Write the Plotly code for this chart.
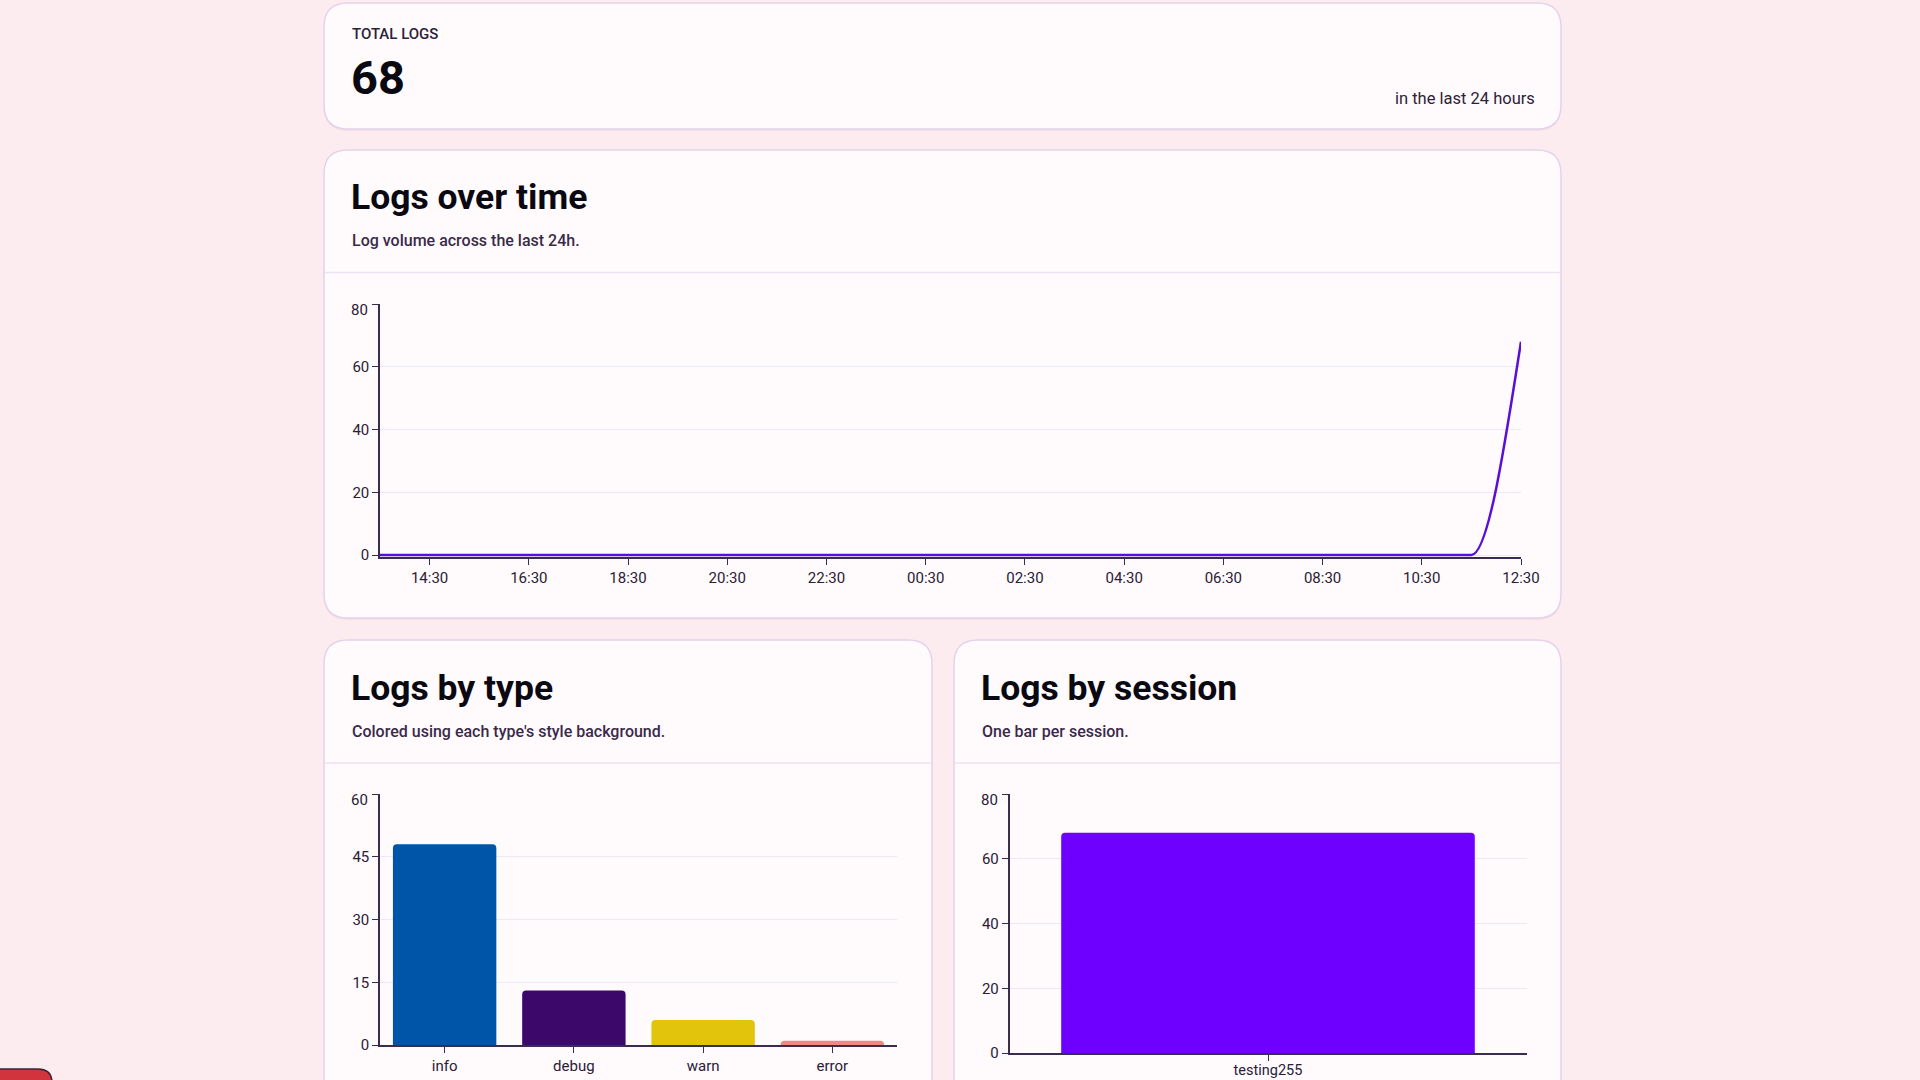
import plotly.graph_objects as go
from datetime import datetime, timedelta

W, H = 1920, 1080

# ---------------- data ----------------
total_logs = 68

bucket_times = [
    "2025-01-14 13:30", "2025-01-14 14:30", "2025-01-14 15:30", "2025-01-14 16:30",
    "2025-01-14 17:30", "2025-01-14 18:30", "2025-01-14 19:30", "2025-01-14 20:30",
    "2025-01-14 21:30", "2025-01-14 22:30", "2025-01-14 23:30", "2025-01-15 00:30",
    "2025-01-15 01:30", "2025-01-15 02:30", "2025-01-15 03:30", "2025-01-15 04:30",
    "2025-01-15 05:30", "2025-01-15 06:30", "2025-01-15 07:30", "2025-01-15 08:30",
    "2025-01-15 09:30", "2025-01-15 10:30", "2025-01-15 11:30", "2025-01-15 12:30",
]
bucket_counts = [0, 0, 0, 0, 0, 0, 0, 0, 0, 0, 0, 0,
                 0, 0, 0, 0, 0, 0, 0, 0, 0, 0, 0, 68]

type_names = ["info", "debug", "warn", "error"]
type_counts = [48, 13, 6, 1]

session_names = ["testing255"]
session_counts = [68]

line_yticks = [0, 20, 40, 60, 80]
type_yticks = [0, 15, 30, 45, 60]
session_yticks = [0, 20, 40, 60, 80]

# ---------------- styles ----------------
FONT = "Roboto, 'Noto Sans', sans-serif"
type_colors = ["#0055a8", "#3c086a", "#e2c40c", "#ec8a7c"]
session_color = "#6e00ff"
line_color = "#5a10d4"
axis_color = "#3a2c4c"
tick_color = "#2a2035"
grid_color = "#efe7f4"
bg_color = "#fcecf0"
card_fill = "#fffbfd"
card_border = "#e4d2ea"
divider_color = "#ece2f1"
TICK_SIZE = 15


def fx(x):
    return x / W


def fy(y):
    return 1 - y / H


def rrect(x0, y0, x1, y1, r):
    def P(x, y):
        return f"{fx(x):.6f},{fy(y):.6f}"
    return (f"M {P(x0 + r, y0)} L {P(x1 - r, y0)} Q {P(x1, y0)} {P(x1, y0 + r)} "
            f"L {P(x1, y1 - r)} Q {P(x1, y1)} {P(x1 - r, y1)} L {P(x0 + r, y1)} "
            f"Q {P(x0, y1)} {P(x0, y1 - r)} L {P(x0, y0 + r)} Q {P(x0, y0)} {P(x0 + r, y0)} Z")


def sign(v):
    return (v > 0) - (v < 0)


def monotone_path(times, values):
    """Monotone-X cubic curve (as d3.curveMonotoneX) expressed in data coordinates."""
    t0 = datetime.strptime(times[0], "%Y-%m-%d %H:%M")
    xs = [(datetime.strptime(t, "%Y-%m-%d %H:%M") - t0).total_seconds() / 3600 for t in times]
    ys = list(values)
    n = len(xs)
    tang = [0.0] * n
    for i in range(1, n - 1):
        h0 = xs[i] - xs[i - 1]
        h1 = xs[i + 1] - xs[i]
        s0 = (ys[i] - ys[i - 1]) / h0
        s1 = (ys[i + 1] - ys[i]) / h1
        p = (s0 * h1 + s1 * h0) / (h0 + h1)
        tang[i] = (sign(s0) + sign(s1)) * min(abs(s0), abs(s1), 0.5 * abs(p))
    tang[0] = (3 * (ys[1] - ys[0]) / (xs[1] - xs[0]) - tang[1]) / 2
    tang[-1] = (3 * (ys[-1] - ys[-2]) / (xs[-1] - xs[-2]) - tang[-2]) / 2

    def D(x):
        return (t0 + timedelta(hours=x)).strftime("%Y-%m-%d_%H:%M:%S")

    path = f"M {D(xs[0])},{ys[0]}"
    for i in range(n - 1):
        dx = (xs[i + 1] - xs[i]) / 3
        path += (f" C {D(xs[i] + dx)},{ys[i] + dx * tang[i]:.4f}"
                 f" {D(xs[i + 1] - dx)},{ys[i + 1] - dx * tang[i + 1]:.4f}"
                 f" {D(xs[i + 1])},{ys[i + 1]}")
    return path


fig = go.Figure()

# ---------- traces ----------
fig.add_trace(go.Scatter(
    x=bucket_times, y=bucket_counts, mode="lines",
    line=dict(color="rgba(0,0,0,0)", width=2.5),
    xaxis="x", yaxis="y", name="Logs", hovertemplate="%{x|%H:%M}: %{y}<extra></extra>",
))
fig.add_trace(go.Bar(
    x=type_names, y=type_counts, marker=dict(color=type_colors, cornerradius=4, line=dict(width=0)),
    xaxis="x2", yaxis="y2", name="Logs by type",
))
fig.add_trace(go.Bar(
    x=session_names, y=session_counts, marker=dict(color=session_color, cornerradius=4, line=dict(width=0)),
    xaxis="x3", yaxis="y3", name="Logs by session",
))

# ---------- cards ----------
cards = [
    (324, 3, 1561, 129),
    (324, 150, 1561, 618),
    (324, 640, 932, 1120),
    (954, 640, 1561, 1120),
]
shapes = []
for (x0, y0, x1, y1) in cards:
    shapes.append(dict(type="path", xref="paper", yref="paper", layer="below",
                       path=rrect(x0, y0 + 2, x1, y1 + 2, 24),
                       fillcolor="rgba(170,120,170,0.10)", line=dict(width=0)))
    shapes.append(dict(type="path", xref="paper", yref="paper", layer="below",
                       path=rrect(x0, y0, x1, y1, 24),
                       fillcolor=card_fill, line=dict(color=card_border, width=1.5)))

for (x0, x1, y) in [(324, 1561, 272.5), (324, 932, 763), (954, 1561, 763)]:
    shapes.append(dict(type="line", xref="paper", yref="paper", layer="below",
                       x0=fx(x0 + 1), x1=fx(x1 - 1), y0=fy(y), y1=fy(y),
                       line=dict(color=divider_color, width=1.5)))

# small red badge at bottom-left
shapes.append(dict(type="path", xref="paper", yref="paper", layer="above",
                   path=rrect(-30, 1069, 52, 1110, 14),
                   fillcolor="#d1343d", line=dict(color="#3b2338", width=1.5)))

# line curve (monotone) drawn in data coordinates of the first subplot
shapes.append(dict(type="path", xref="x", yref="y", layer="above",
                   path=monotone_path(bucket_times, bucket_counts),
                   fillcolor="rgba(0,0,0,0)", line=dict(color=line_color, width=2.5)))

# ---------- annotations ----------
ann = []


def text(x, y, s, size, color, weight=400, xanchor="left"):
    ann.append(dict(x=fx(x), y=fy(y), xref="paper", yref="paper", text=s, showarrow=False,
                    xanchor=xanchor, yanchor="middle",
                    font=dict(family=FONT, size=size, color=color, weight=weight)))


text(350, 34, "TOTAL LOGS", 15, "#2d2238", 500)
text(349, 78, str(total_logs), 47, "#0a0810", 700)
text(1537, 98, "in the last 24 hours", 16.5, "#2d2238", 400, "right")

text(349, 197, "Logs over time", 35.5, "#0a0810", 700)
text(350, 241, "Log volume across the last 24h.", 16, "#3a2a4a", 500)

text(349, 688, "Logs by type", 35.5, "#0a0810", 700)
text(350, 731, "Colored using each type's style background.", 16, "#3a2a4a", 500)

text(979, 688, "Logs by session", 35.5, "#0a0810", 700)
text(980, 731, "One bar per session.", 16, "#3a2a4a", 500)


def top_label(axis_x, yref, value):
    # the top tick label sits a little below its tick in the reference
    ann.append(dict(x=fx(axis_x - 10), y=value, xref="paper", yref=yref, text=str(value),
                    showarrow=False, xanchor="right", yanchor="middle", yshift=-6,
                    font=dict(family=FONT, size=TICK_SIZE, color=tick_color)))


# ---------- axes ----------
common = dict(showline=True, linecolor=axis_color, linewidth=1.5, ticks="outside", ticklen=6,
              tickwidth=1.2, tickcolor=axis_color, zeroline=False, fixedrange=True,
              automargin=False,
              tickfont=dict(family=FONT, size=TICK_SIZE, color=tick_color))


def ydom(top, bottom):
    return [fy(bottom), fy(top)]


def ticktexts(vals):
    return [str(v) for v in vals[:-1]] + [""]


# line chart: 80 at y=304, 0 at y=555
pxu = (555 - 304) / 80
y_low = -0.6
line_bottom = 555 + (-y_low) * pxu

top_label(380, "y", line_yticks[-1])
top_label(380, "y2", type_yticks[-1])
top_label(1009.5, "y3", session_yticks[-1])

fig.update_layout(
    xaxis=dict(common, domain=[fx(380), fx(1521)], anchor="y", type="date",
               range=[bucket_times[0], bucket_times[-1]], tick0="2025-01-14 14:30",
               dtick=7200000, tickformat="%H:%M", showgrid=False, ticklabelstandoff=0),
    yaxis=dict(common, domain=ydom(304, line_bottom), anchor="x", range=[y_low, 80],
               tickvals=line_yticks, ticktext=ticktexts(line_yticks),
               showgrid=True, gridcolor=grid_color, gridwidth=1),
    xaxis2=dict(common, domain=[fx(380), fx(897)], anchor="y2", showgrid=False,
                ticklabelstandoff=0),
    yaxis2=dict(common, domain=ydom(794, 1045), anchor="x2", range=[0, 60],
                tickvals=type_yticks, ticktext=ticktexts(type_yticks),
                showgrid=True, gridcolor=grid_color, gridwidth=1),
    xaxis3=dict(common, domain=[fx(1009.5), fx(1526.5)], anchor="y3", showgrid=False,
                ticklabelstandoff=-3, tickfont=dict(family=FONT, size=14.5, color=tick_color)),
    yaxis3=dict(common, domain=ydom(794, 1053), anchor="x3", range=[0, 80],
                tickvals=session_yticks, ticktext=ticktexts(session_yticks),
                showgrid=True, gridcolor=grid_color, gridwidth=1),
    bargap=0.2,
    showlegend=False,
    width=W, height=H, autosize=False,
    margin=dict(l=0, r=0, t=0, b=0, pad=0, autoexpand=False),
    paper_bgcolor=bg_color, plot_bgcolor="rgba(0,0,0,0)",
    shapes=shapes, annotations=ann,
    font=dict(family=FONT, color=tick_color),
)

fig.write_html("out.html", config={"displayModeBar": False})
